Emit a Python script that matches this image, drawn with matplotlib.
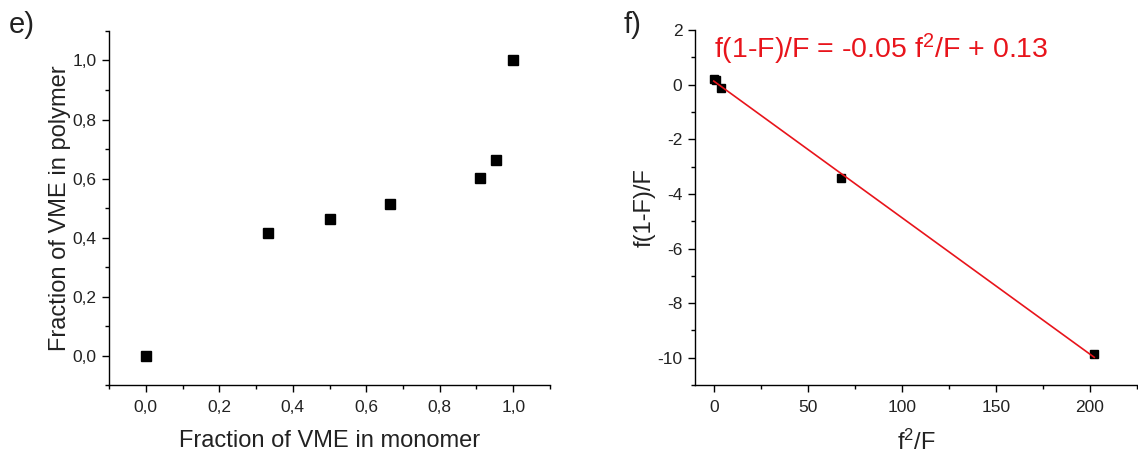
import numpy as np
import matplotlib.pyplot as plt
from matplotlib.ticker import MultipleLocator, FuncFormatter

plt.rcParams['font.family'] = ['Liberation Sans', 'DejaVu Sans']
plt.rcParams['mathtext.default'] = 'regular'
plt.rcParams['axes.unicode_minus'] = False

# panel e) data
monomer_frac = [0.0, 0.333, 0.5, 0.665, 0.91, 0.953, 1.0]
polymer_frac = [0.0, 0.415, 0.462, 0.512, 0.601, 0.663, 1.0]

# panel f) data (Fineman-Ross)
f2_F = [0.0, 1.0, 3.6, 67.4, 202.3]
f1F_F = [0.20, 0.18, -0.12, -3.41, -9.85]
slope = -0.05
intercept = 0.13

txt = '#222222'

fig = plt.figure(figsize=(11.38, 4.53), dpi=100)
ax1 = fig.add_axes([0.0958, 0.150, 0.3875, 0.7816])
ax2 = fig.add_axes([0.6107, 0.150, 0.3884, 0.7837])

for ax in (ax1, ax2):
    for s in ('top', 'right'):
        ax.spines[s].set_visible(False)
    for s in ('left', 'bottom'):
        ax.spines[s].set_linewidth(1.0)
    ax.tick_params(which='major', direction='out', length=5, width=1.0,
                   labelsize=12.5, labelcolor=txt, pad=4)
    ax.tick_params(axis='x', which='major', pad=5.5)
    ax.tick_params(which='minor', direction='out', length=3, width=1.0)

# left
ax1.plot(monomer_frac, polymer_frac, 's', color='black', markersize=6.5)
ax1.set_xlim(-0.1, 1.1)
ax1.set_ylim(-0.1, 1.1)
ax1.xaxis.set_major_locator(MultipleLocator(0.2))
ax1.xaxis.set_minor_locator(MultipleLocator(0.1))
ax1.yaxis.set_major_locator(MultipleLocator(0.2))
ax1.yaxis.set_minor_locator(MultipleLocator(0.1))
comma = FuncFormatter(lambda v, p: ('%.1f' % v).replace('.', ',').replace('-0,0', '0,0'))
ax1.xaxis.set_major_formatter(comma)
ax1.yaxis.set_major_formatter(comma)
ax1.set_xlabel('Fraction of VME in monomer', fontsize=17, color=txt, labelpad=11)
ax1.set_ylabel('Fraction of VME in polymer', fontsize=17, color=txt, labelpad=1)
fig.text(0.008, 0.975, 'e)', fontsize=21, color=txt, va='top', ha='left')

# right
ax2.plot(f2_F, f1F_F, 's', color='black', markersize=6)
xfit = np.array([0.0, max(f2_F)])
ax2.plot(xfit, slope * xfit + intercept, color='#e8141b', linewidth=1.2)
ax2.set_xlim(-10, 225)
ax2.set_ylim(-11, 2)
ax2.xaxis.set_major_locator(MultipleLocator(50))
ax2.xaxis.set_minor_locator(MultipleLocator(25))
ax2.yaxis.set_major_locator(MultipleLocator(2))
ax2.yaxis.set_minor_locator(MultipleLocator(1))
ax2.set_xlabel('f$^2$/F', fontsize=17, color=txt, labelpad=11)
ax2.set_ylabel('f(1-F)/F', fontsize=17, color=txt, labelpad=1)
ax2.text(0.0, 1.3, 'f(1-F)/F = -0.05 f$^2$/F + 0.13', fontsize=20.5,
         color='#e8141b', va='center', ha='left')
fig.text(0.548, 0.975, 'f)', fontsize=21, color=txt, va='top', ha='left')

fig.savefig('out.png', dpi=100)
